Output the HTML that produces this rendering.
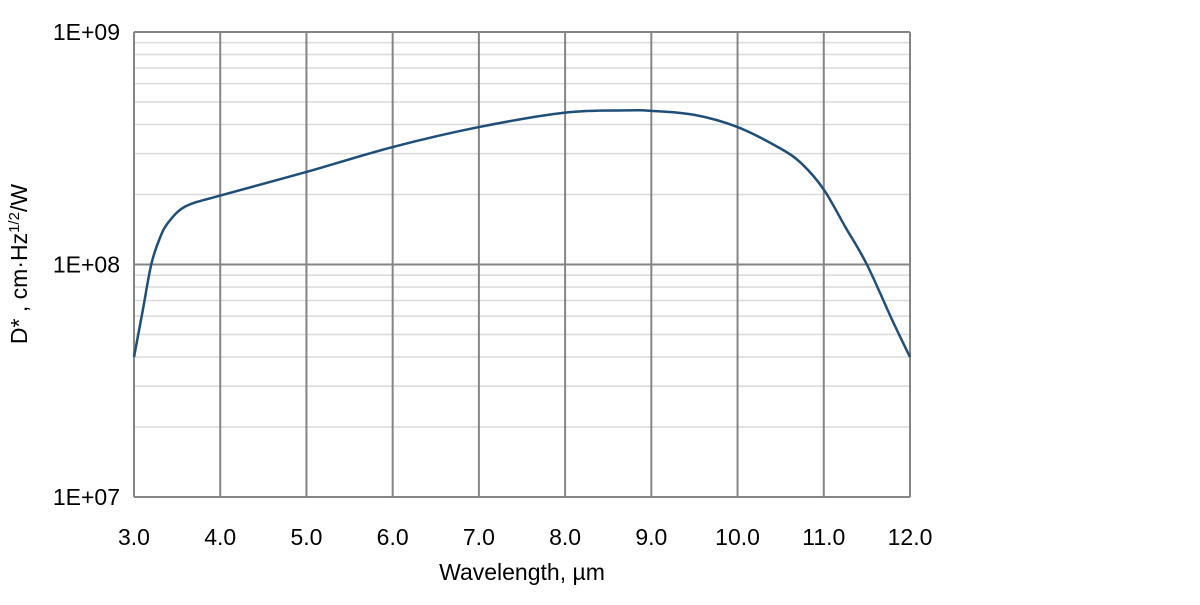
<!DOCTYPE html>
<html><head><meta charset="utf-8"><style>
body{margin:0;background:#fff;}
svg text{font-family:"Liberation Sans",sans-serif;fill:#000;}
</style></head><body>
<svg id="chart" width="1200" height="600" xmlns="http://www.w3.org/2000/svg">
<g id="grid"></g>
<g id="axes"></g>
<path id="curve" fill="none" stroke="#1f4e79" stroke-width="2.5"/>
<text x="522" y="580" font-size="23" text-anchor="middle">Wavelength, µm</text>
<text transform="translate(27,264) rotate(-90)" font-size="23" text-anchor="middle">D* , cm·Hz<tspan font-size="15" dy="-8">1/2</tspan><tspan dy="8">/W</tspan></text>
</svg>
<script>
const wavelengths=[3.0,3.1,3.2,3.3,3.4,3.6,4.0,5.0,6.0,7.0,8.0,8.7,9.0,9.5,10.0,10.5,10.75,11.0,11.25,11.5,11.8,12.0];
const dstar=[4e7,6.3e7,1e8,1.3e8,1.52e8,1.78e8,1.98e8,2.5e8,3.2e8,3.9e8,4.5e8,4.6e8,4.58e8,4.4e8,3.9e8,3.15e8,2.7e8,2.1e8,1.45e8,1e8,5.7e7,4e7];
const xTicks=[3,4,5,6,7,8,9,10,11,12];
const yDecades=[7,8,9];
const yTickLabels=["1E+07","1E+08","1E+09"];
const X0=134,X1=910,Y0=497,Y1=32;
const xs=v=>X0+(v-3)/(12-3)*(X1-X0);
const ys=v=>Y0-(Math.log10(v)-7)/(9-7)*(Y0-Y1);
const NS="http://www.w3.org/2000/svg";
const grid=document.getElementById('grid'),axes=document.getElementById('axes');
function mk(tag,attrs,parent){const e=document.createElementNS(NS,tag);for(const k in attrs)e.setAttribute(k,attrs[k]);parent.appendChild(e);return e;}
for(let d=7;d<9;d++)for(let m=2;m<=9;m++){
 const y=ys(m*Math.pow(10,d));
 const l=mk('line',{x1:X0,x2:X1,y1:y,y2:y,stroke:'#dadada','stroke-width':1.5},grid);
 
 
}
yDecades.forEach((d,i)=>{
 const y=ys(Math.pow(10,d));
 const l=mk('line',{x1:X0,x2:X1,y1:y,y2:y,stroke:'#858585','stroke-width':2},grid);
 
 
 const t=mk('text',{x:X0-14,y:y+8,'font-size':23,'text-anchor':'end'},axes);
 t.textContent=yTickLabels[i];
 
 
});
xTicks.forEach(v=>{
 const x=xs(v);
 const l=mk('line',{x1:x,x2:x,y1:Y1,y2:Y0,stroke:'#858585','stroke-width':2},grid);
 
 
 const t=mk('text',{x:x,y:545,'font-size':23,'text-anchor':'middle'},axes);
 t.textContent=v.toFixed(1);
 
 
});
const P=wavelengths.map((w,i)=>[xs(w),ys(dstar[i])]);
let d='M'+P[0][0]+','+P[0][1];
for(let i=0;i<P.length-1;i++){
 const p0=P[Math.max(i-1,0)],p1=P[i],p2=P[i+1],p3=P[Math.min(i+2,P.length-1)];
 const c1=[p1[0]+(p2[0]-p0[0])/6,p1[1]+(p2[1]-p0[1])/6];
 const c2=[p2[0]-(p3[0]-p1[0])/6,p2[1]-(p3[1]-p1[1])/6];
 d+=`C${c1[0]},${c1[1]} ${c2[0]},${c2[1]} ${p2[0]},${p2[1]}`;
}
document.getElementById('curve').setAttribute('d',d);
</script>
</body></html>
